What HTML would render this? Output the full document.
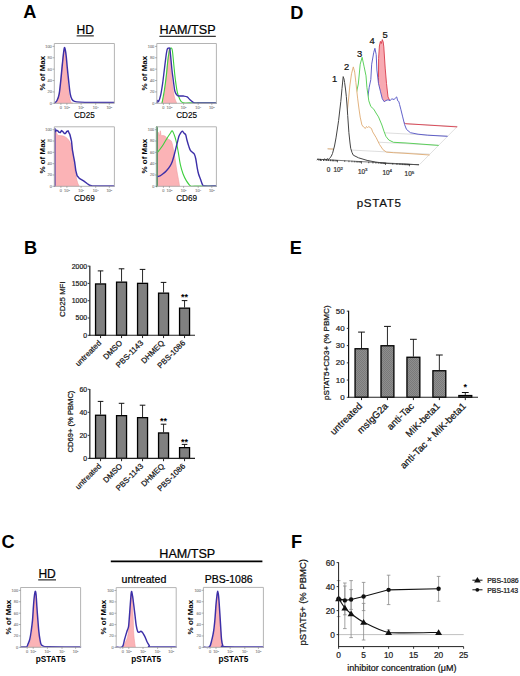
<!DOCTYPE html>
<html><head><meta charset="utf-8"><style>
html,body{margin:0;padding:0;background:#fff;}
svg{display:block;}
text{font-family:"Liberation Sans", sans-serif;}
</style></head><body>
<svg width="520" height="676" viewBox="0 0 520 676">
<rect width="520" height="676" fill="#fff"/>
<defs><pattern id="hatch" width="2" height="2" patternUnits="userSpaceOnUse"><rect width="2" height="2" fill="#8e8e8e"/><rect width="1" height="1" fill="#7a7a7a"/><rect x="1" y="1" width="1" height="1" fill="#7a7a7a"/></pattern></defs>
<text x="23.2" y="17.6" font-size="18.2" font-weight="bold" fill="#000">A</text>
<text x="85.2" y="34" font-size="12" text-anchor="middle" fill="#000" stroke="#000" stroke-width="0.22">HD</text>
<line x1="76.6" y1="35.9" x2="93.8" y2="35.9" stroke="#000" stroke-width="1"/>
<text x="187.6" y="34.2" font-size="12.6" text-anchor="middle" fill="#000" stroke="#000" stroke-width="0.22">HAM/TSP</text>
<line x1="159.4" y1="36.3" x2="215.8" y2="36.3" stroke="#000" stroke-width="1"/>
<path d="M56,103.3 C56.42,102.25 57.8,99.88 58.5,97 C59.2,94.12 59.7,90.17 60.2,86 C60.7,81.83 61.03,76.83 61.5,72 C61.97,67.17 62.53,60.75 63,57 C63.47,53.25 63.87,49.67 64.3,49.5 C64.73,49.33 65.18,52.58 65.6,56 C66.02,59.42 66.4,65.33 66.8,70 C67.2,74.67 67.58,79.67 68,84 C68.42,88.33 68.8,92.95 69.3,96 C69.8,99.05 70.38,101.08 71,102.3 C71.62,103.52 72.67,103.13 73,103.3 Z" fill="#fbb3b6" stroke="#f09aa0" stroke-width="0.6" stroke-linejoin="round"/>
<path d="M54.6,103 C55,102.58 56.23,102.03 57,100.5 C57.77,98.97 58.57,97.15 59.2,93.8 C59.83,90.45 60.32,84.88 60.8,80.4 C61.28,75.92 61.65,71.38 62.1,66.9 C62.55,62.42 63.12,56.72 63.5,53.5 C63.88,50.28 64.08,48.1 64.4,47.6 C64.72,47.1 65.08,48.93 65.4,50.5 C65.72,52.07 66,54.27 66.3,57 C66.6,59.73 66.82,63 67.2,66.9 C67.58,70.8 68.1,75.92 68.6,80.4 C69.1,84.88 69.63,90.65 70.2,93.8 C70.77,96.95 71.28,98.03 72,99.3 C72.72,100.57 73.17,100.93 74.5,101.4 C75.83,101.87 76.58,101.93 80,102.1 C83.42,102.27 89.33,102.33 95,102.4 C100.67,102.47 110.83,102.48 114,102.5" fill="none" stroke="#3c2fa8" stroke-width="1.45" stroke-linejoin="round" stroke-linecap="round"/>
<path d="M54.3,43.5 H114.4 V103.3 H54.3 Z" fill="none" stroke="#b4b4b4" stroke-width="1"/>
<line x1="52.5" y1="46.4" x2="54.3" y2="46.4" stroke="#7c7c7c" stroke-width="0.6"/>
<text x="51.8" y="47.8" font-size="3.9" text-anchor="end" fill="#7c7c7c" stroke="#7c7c7c" stroke-width="0.1">100</text>
<line x1="52.5" y1="57.78" x2="54.3" y2="57.78" stroke="#7c7c7c" stroke-width="0.6"/>
<text x="51.8" y="59.18" font-size="3.9" text-anchor="end" fill="#7c7c7c" stroke="#7c7c7c" stroke-width="0.1">80</text>
<line x1="52.5" y1="69.16" x2="54.3" y2="69.16" stroke="#7c7c7c" stroke-width="0.6"/>
<text x="51.8" y="70.56" font-size="3.9" text-anchor="end" fill="#7c7c7c" stroke="#7c7c7c" stroke-width="0.1">60</text>
<line x1="52.5" y1="80.54" x2="54.3" y2="80.54" stroke="#7c7c7c" stroke-width="0.6"/>
<text x="51.8" y="81.94" font-size="3.9" text-anchor="end" fill="#7c7c7c" stroke="#7c7c7c" stroke-width="0.1">40</text>
<line x1="52.5" y1="91.92" x2="54.3" y2="91.92" stroke="#7c7c7c" stroke-width="0.6"/>
<text x="51.8" y="93.32" font-size="3.9" text-anchor="end" fill="#7c7c7c" stroke="#7c7c7c" stroke-width="0.1">20</text>
<line x1="52.5" y1="103.3" x2="54.3" y2="103.3" stroke="#7c7c7c" stroke-width="0.6"/>
<text x="51.8" y="104.7" font-size="3.9" text-anchor="end" fill="#7c7c7c" stroke="#7c7c7c" stroke-width="0.1">0</text>
<line x1="60.9" y1="103.3" x2="60.9" y2="104.8" stroke="#7c7c7c" stroke-width="0.6"/>
<text x="60.9" y="109" font-size="3.9" text-anchor="middle" fill="#7c7c7c" stroke="#7c7c7c" stroke-width="0.1">0</text>
<line x1="66.9" y1="103.3" x2="66.9" y2="104.8" stroke="#7c7c7c" stroke-width="0.6"/>
<text x="66.9" y="109" font-size="3.9" text-anchor="middle" fill="#7c7c7c" stroke="#7c7c7c" stroke-width="0.1">10<tspan font-size="2.4" dy="-1.2">2</tspan></text>
<line x1="81.1" y1="103.3" x2="81.1" y2="104.8" stroke="#7c7c7c" stroke-width="0.6"/>
<text x="81.1" y="109" font-size="3.9" text-anchor="middle" fill="#7c7c7c" stroke="#7c7c7c" stroke-width="0.1">10<tspan font-size="2.4" dy="-1.2">3</tspan></text>
<line x1="95.7" y1="103.3" x2="95.7" y2="104.8" stroke="#7c7c7c" stroke-width="0.6"/>
<text x="95.7" y="109" font-size="3.9" text-anchor="middle" fill="#7c7c7c" stroke="#7c7c7c" stroke-width="0.1">10<tspan font-size="2.4" dy="-1.2">4</tspan></text>
<line x1="109.3" y1="103.3" x2="109.3" y2="104.8" stroke="#7c7c7c" stroke-width="0.6"/>
<text x="109.3" y="109" font-size="3.9" text-anchor="middle" fill="#7c7c7c" stroke="#7c7c7c" stroke-width="0.1">10<tspan font-size="2.4" dy="-1.2">5</tspan></text>
<text x="84.35" y="117.9" font-size="8.2" text-anchor="middle" fill="#000" stroke="#000" stroke-width="0.12">CD25</text>
<text x="44.6" y="73.1" font-size="8" font-weight="bold" text-anchor="middle" fill="#000" transform="rotate(-90 44.6 73.1)">% of Max</text>
<path d="M161.6,103.3 C162,101.92 163.28,98.9 164,95 C164.72,91.1 165.35,84.78 165.9,79.9 C166.45,75.02 166.83,70.28 167.3,65.7 C167.77,61.12 168.38,55.08 168.7,52.4 C169.02,49.72 168.95,48.97 169.2,49.6 C169.45,50.23 169.88,52.73 170.2,56.2 C170.52,59.67 170.72,65.67 171.1,70.4 C171.48,75.13 171.95,80.18 172.5,84.6 C173.05,89.02 173.68,93.78 174.4,96.9 C175.12,100.02 176.4,102.23 176.8,103.3 Z" fill="#fbb3b6" stroke="#f09aa0" stroke-width="0.6" stroke-linejoin="round"/>
<path d="M162.1,102.8 C162.5,100.55 163.78,93.92 164.5,89.3 C165.22,84.68 165.85,79.83 166.4,75.1 C166.95,70.37 167.33,64.83 167.8,60.9 C168.27,56.97 168.8,53.55 169.2,51.5 C169.6,49.45 169.8,49.15 170.2,48.6 C170.6,48.05 171.22,47.72 171.6,48.2 C171.98,48.68 172.12,48.58 172.5,51.5 C172.88,54.42 173.42,60.97 173.9,65.7 C174.38,70.43 174.83,75.48 175.4,79.9 C175.97,84.32 176.6,89.05 177.3,92.2 C178,95.35 178.73,97.07 179.6,98.8 C180.47,100.53 180.77,101.92 182.5,102.6 C184.23,103.28 184.42,102.85 190,102.9 C195.58,102.95 211.67,102.9 216,102.9" fill="none" stroke="#3ccf3c" stroke-width="1.1" stroke-linejoin="round" stroke-linecap="round"/>
<path d="M157.2,102.7 C157.27,102.33 157.37,100.7 157.6,100.5 C157.83,100.3 158.08,102.42 158.6,101.5 C159.12,100.58 160.03,97.97 160.7,95 C161.37,92.03 162.05,87.48 162.6,83.7 C163.15,79.92 163.53,76.1 164,72.3 C164.47,68.5 165,64.05 165.4,60.9 C165.8,57.75 166.08,55.37 166.4,53.4 C166.72,51.43 166.98,49.97 167.3,49.1 C167.62,48.23 167.9,48.35 168.3,48.2 C168.7,48.05 169.38,47.65 169.7,48.2 C170.02,48.75 169.97,49.38 170.2,51.5 C170.43,53.62 170.8,57.75 171.1,60.9 C171.4,64.05 171.6,66.92 172,70.4 C172.4,73.88 173.02,78.33 173.5,81.8 C173.98,85.27 174.27,88.92 174.9,91.2 C175.53,93.48 176.35,94.7 177.3,95.5 C178.25,96.3 179.58,95.92 180.6,96 C181.62,96.08 182.3,95.85 183.4,96 C184.5,96.15 186.1,96.27 187.2,96.9 C188.3,97.53 189.05,98.93 190,99.8 C190.95,100.67 192.1,101.57 192.9,102.1 C193.7,102.63 193.62,102.85 194.8,103 C195.98,103.15 196.47,103 200,103 C203.53,103 213.33,103 216,103" fill="none" stroke="#3c2fa8" stroke-width="1.35" stroke-linejoin="round" stroke-linecap="round"/>
<path d="M156.8,43.5 H216.4 V103.3 H156.8 Z" fill="none" stroke="#b4b4b4" stroke-width="1"/>
<line x1="155" y1="46.4" x2="156.8" y2="46.4" stroke="#7c7c7c" stroke-width="0.6"/>
<text x="154.3" y="47.8" font-size="3.9" text-anchor="end" fill="#7c7c7c" stroke="#7c7c7c" stroke-width="0.1">100</text>
<line x1="155" y1="57.78" x2="156.8" y2="57.78" stroke="#7c7c7c" stroke-width="0.6"/>
<text x="154.3" y="59.18" font-size="3.9" text-anchor="end" fill="#7c7c7c" stroke="#7c7c7c" stroke-width="0.1">80</text>
<line x1="155" y1="69.16" x2="156.8" y2="69.16" stroke="#7c7c7c" stroke-width="0.6"/>
<text x="154.3" y="70.56" font-size="3.9" text-anchor="end" fill="#7c7c7c" stroke="#7c7c7c" stroke-width="0.1">60</text>
<line x1="155" y1="80.54" x2="156.8" y2="80.54" stroke="#7c7c7c" stroke-width="0.6"/>
<text x="154.3" y="81.94" font-size="3.9" text-anchor="end" fill="#7c7c7c" stroke="#7c7c7c" stroke-width="0.1">40</text>
<line x1="155" y1="91.92" x2="156.8" y2="91.92" stroke="#7c7c7c" stroke-width="0.6"/>
<text x="154.3" y="93.32" font-size="3.9" text-anchor="end" fill="#7c7c7c" stroke="#7c7c7c" stroke-width="0.1">20</text>
<line x1="155" y1="103.3" x2="156.8" y2="103.3" stroke="#7c7c7c" stroke-width="0.6"/>
<text x="154.3" y="104.7" font-size="3.9" text-anchor="end" fill="#7c7c7c" stroke="#7c7c7c" stroke-width="0.1">0</text>
<line x1="163.4" y1="103.3" x2="163.4" y2="104.8" stroke="#7c7c7c" stroke-width="0.6"/>
<text x="163.4" y="109" font-size="3.9" text-anchor="middle" fill="#7c7c7c" stroke="#7c7c7c" stroke-width="0.1">0</text>
<line x1="169.4" y1="103.3" x2="169.4" y2="104.8" stroke="#7c7c7c" stroke-width="0.6"/>
<text x="169.4" y="109" font-size="3.9" text-anchor="middle" fill="#7c7c7c" stroke="#7c7c7c" stroke-width="0.1">10<tspan font-size="2.4" dy="-1.2">2</tspan></text>
<line x1="183.6" y1="103.3" x2="183.6" y2="104.8" stroke="#7c7c7c" stroke-width="0.6"/>
<text x="183.6" y="109" font-size="3.9" text-anchor="middle" fill="#7c7c7c" stroke="#7c7c7c" stroke-width="0.1">10<tspan font-size="2.4" dy="-1.2">3</tspan></text>
<line x1="198.2" y1="103.3" x2="198.2" y2="104.8" stroke="#7c7c7c" stroke-width="0.6"/>
<text x="198.2" y="109" font-size="3.9" text-anchor="middle" fill="#7c7c7c" stroke="#7c7c7c" stroke-width="0.1">10<tspan font-size="2.4" dy="-1.2">4</tspan></text>
<line x1="211.8" y1="103.3" x2="211.8" y2="104.8" stroke="#7c7c7c" stroke-width="0.6"/>
<text x="211.8" y="109" font-size="3.9" text-anchor="middle" fill="#7c7c7c" stroke="#7c7c7c" stroke-width="0.1">10<tspan font-size="2.4" dy="-1.2">5</tspan></text>
<text x="186.6" y="117.9" font-size="8.2" text-anchor="middle" fill="#000" stroke="#000" stroke-width="0.12">CD25</text>
<text x="147.2" y="73.1" font-size="8" font-weight="bold" text-anchor="middle" fill="#000" transform="rotate(-90 147.2 73.1)">% of Max</text>
<path d="M54.8,186.3 C54.8,177.68 54.27,143.08 54.8,134.6 C55.33,126.12 56.8,135.2 58,135.4 C59.2,135.6 60.92,135.6 62,135.8 C63.08,136 63.67,136.2 64.5,136.6 C65.33,137 66.2,137.47 67,138.2 C67.8,138.93 68.63,139.87 69.3,141 C69.97,142.13 70.48,143.42 71,145 C71.52,146.58 72.03,148.83 72.4,150.5 C72.77,152.17 72.98,153 73.2,155 C73.42,157 73.4,159.9 73.7,162.5 C74,165.1 74.57,168.1 75,170.6 C75.43,173.1 75.87,175.48 76.3,177.5 C76.73,179.52 77.1,181.23 77.6,182.7 C78.1,184.17 79.02,185.7 79.3,186.3 Z" fill="#fbb3b6" stroke="#f09aa0" stroke-width="0.6" stroke-linejoin="round"/>
<path d="M54.8,186.2 L54.8,128.5 L55.5,131.6 L56.5,130.2 L57.7,130.8 L59,132.3 L60.3,132.5 L61.5,130.6 L62.9,131.6 L64.2,133.4 L65.5,133.4 L66.8,131.5 L68.1,130.8 L69.3,133.5 L69.8,134.2 L70.7,137.7 L71.5,141.1 L72.4,149.8 L73.3,155 L74.6,161.9 L75.8,170.6 L77.1,175.7 L79.3,178.3 L83.6,180.9 L87.1,183.5 L89.7,185.3 L92.3,185.9 L100,186 L114,186" fill="none" stroke="#3c2fa8" stroke-width="1.45" stroke-linejoin="round" stroke-linecap="round"/>
<path d="M54.3,126.8 H114.4 V186.3 H54.3 Z" fill="none" stroke="#b4b4b4" stroke-width="1"/>
<line x1="52.5" y1="129.7" x2="54.3" y2="129.7" stroke="#7c7c7c" stroke-width="0.6"/>
<text x="51.8" y="131.1" font-size="3.9" text-anchor="end" fill="#7c7c7c" stroke="#7c7c7c" stroke-width="0.1">100</text>
<line x1="52.5" y1="141.02" x2="54.3" y2="141.02" stroke="#7c7c7c" stroke-width="0.6"/>
<text x="51.8" y="142.42" font-size="3.9" text-anchor="end" fill="#7c7c7c" stroke="#7c7c7c" stroke-width="0.1">80</text>
<line x1="52.5" y1="152.34" x2="54.3" y2="152.34" stroke="#7c7c7c" stroke-width="0.6"/>
<text x="51.8" y="153.74" font-size="3.9" text-anchor="end" fill="#7c7c7c" stroke="#7c7c7c" stroke-width="0.1">60</text>
<line x1="52.5" y1="163.66" x2="54.3" y2="163.66" stroke="#7c7c7c" stroke-width="0.6"/>
<text x="51.8" y="165.06" font-size="3.9" text-anchor="end" fill="#7c7c7c" stroke="#7c7c7c" stroke-width="0.1">40</text>
<line x1="52.5" y1="174.98" x2="54.3" y2="174.98" stroke="#7c7c7c" stroke-width="0.6"/>
<text x="51.8" y="176.38" font-size="3.9" text-anchor="end" fill="#7c7c7c" stroke="#7c7c7c" stroke-width="0.1">20</text>
<line x1="52.5" y1="186.3" x2="54.3" y2="186.3" stroke="#7c7c7c" stroke-width="0.6"/>
<text x="51.8" y="187.7" font-size="3.9" text-anchor="end" fill="#7c7c7c" stroke="#7c7c7c" stroke-width="0.1">0</text>
<line x1="60.9" y1="186.3" x2="60.9" y2="187.8" stroke="#7c7c7c" stroke-width="0.6"/>
<text x="60.9" y="192" font-size="3.9" text-anchor="middle" fill="#7c7c7c" stroke="#7c7c7c" stroke-width="0.1">0</text>
<line x1="66.9" y1="186.3" x2="66.9" y2="187.8" stroke="#7c7c7c" stroke-width="0.6"/>
<text x="66.9" y="192" font-size="3.9" text-anchor="middle" fill="#7c7c7c" stroke="#7c7c7c" stroke-width="0.1">10<tspan font-size="2.4" dy="-1.2">2</tspan></text>
<line x1="81.1" y1="186.3" x2="81.1" y2="187.8" stroke="#7c7c7c" stroke-width="0.6"/>
<text x="81.1" y="192" font-size="3.9" text-anchor="middle" fill="#7c7c7c" stroke="#7c7c7c" stroke-width="0.1">10<tspan font-size="2.4" dy="-1.2">3</tspan></text>
<line x1="95.7" y1="186.3" x2="95.7" y2="187.8" stroke="#7c7c7c" stroke-width="0.6"/>
<text x="95.7" y="192" font-size="3.9" text-anchor="middle" fill="#7c7c7c" stroke="#7c7c7c" stroke-width="0.1">10<tspan font-size="2.4" dy="-1.2">4</tspan></text>
<line x1="109.3" y1="186.3" x2="109.3" y2="187.8" stroke="#7c7c7c" stroke-width="0.6"/>
<text x="109.3" y="192" font-size="3.9" text-anchor="middle" fill="#7c7c7c" stroke="#7c7c7c" stroke-width="0.1">10<tspan font-size="2.4" dy="-1.2">5</tspan></text>
<text x="84.35" y="200.9" font-size="8.2" text-anchor="middle" fill="#000" stroke="#000" stroke-width="0.12">CD69</text>
<text x="44.6" y="156.25" font-size="8" font-weight="bold" text-anchor="middle" fill="#000" transform="rotate(-90 44.6 156.25)">% of Max</text>
<path d="M157.6,186.3 C157.6,177.92 157.3,144.45 157.6,136 C157.9,127.55 159.02,136.1 159.4,135.6 C159.78,135.1 159.75,133.8 159.9,133 C160.05,132.2 160.17,130.8 160.3,130.8 C160.43,130.8 160.55,132.2 160.7,133 C160.85,133.8 160.82,135.17 161.2,135.6 C161.58,136.03 162.28,135.47 163,135.6 C163.72,135.73 164.75,135.87 165.5,136.4 C166.25,136.93 166.72,138.17 167.5,138.8 C168.28,139.43 169.53,139.75 170.2,140.2 C170.87,140.65 171.05,140.38 171.5,141.5 C171.95,142.62 172.33,144.2 172.9,146.9 C173.47,149.6 174.23,153.67 174.9,157.7 C175.57,161.73 176.23,167.07 176.9,171.1 C177.57,175.13 178.45,179.37 178.9,181.9 C179.35,184.43 179.48,185.57 179.6,186.3 Z" fill="#fbb3b6" stroke="#f09aa0" stroke-width="0.6" stroke-linejoin="round"/>
<path d="M156.9,186.2 L156.9,127.2" fill="none" stroke="#2e8040" stroke-width="2" stroke-linejoin="round" stroke-linecap="round"/>
<path d="M157.8,152 C158.17,151.55 159.05,150.6 160,149.3 C160.95,148 162.25,146.17 163.5,144.2 C164.75,142.23 166.33,139.37 167.5,137.5 C168.67,135.63 169.72,134.12 170.5,133 C171.28,131.88 171.58,130.5 172.2,130.8 C172.82,131.1 173.53,133.02 174.2,134.8 C174.87,136.58 175.52,138.58 176.2,141.5 C176.88,144.42 177.62,148.48 178.3,152.3 C178.98,156.12 179.52,160.82 180.3,164.4 C181.08,167.98 182,171.1 183,173.8 C184,176.5 185.07,178.6 186.3,180.6 C187.53,182.6 188.95,184.88 190.4,185.8 C191.85,186.72 190.73,186.05 195,186.1 C199.27,186.15 212.5,186.1 216,186.1" fill="none" stroke="#3ccf3c" stroke-width="1.1" stroke-linejoin="round" stroke-linecap="round"/>
<path d="M157.8,176.5 C158.17,176.38 159.28,176.13 160,175.8 C160.72,175.47 161.07,175.28 162.1,174.5 C163.13,173.72 164.85,172.55 166.2,171.1 C167.55,169.65 169.2,167.37 170.2,165.8 C171.2,164.23 171.53,163.5 172.2,161.7 C172.87,159.9 173.53,157.47 174.2,155 C174.87,152.53 175.63,149.15 176.2,146.9 C176.77,144.65 177.15,143.28 177.6,141.5 C178.05,139.72 178.45,137.53 178.9,136.2 C179.35,134.87 179.73,134.33 180.3,133.5 C180.87,132.67 181.77,131.37 182.3,131.2 C182.83,131.03 183.17,132.12 183.5,132.5 C183.83,132.88 183.93,133.12 184.3,133.5 C184.67,133.88 185.25,133.68 185.7,134.8 C186.15,135.92 186.45,138.18 187,140.2 C187.55,142.22 188.43,145.22 189,146.9 C189.57,148.58 189.83,149.4 190.4,150.3 C190.97,151.2 191.73,151.63 192.4,152.3 C193.07,152.97 193.83,153.18 194.4,154.3 C194.97,155.42 195.35,156.87 195.8,159 C196.25,161.13 196.65,164.63 197.1,167.1 C197.55,169.57 197.93,171.78 198.5,173.8 C199.07,175.82 199.83,177.4 200.5,179.2 C201.17,181 201.83,183.47 202.5,184.6 C203.17,185.73 202.25,185.77 204.5,186 C206.75,186.23 214.08,186 216,186" fill="none" stroke="#3c2fa8" stroke-width="1.4" stroke-linejoin="round" stroke-linecap="round"/>
<path d="M156.8,126.8 H216.4 V186.3 H156.8 Z" fill="none" stroke="#b4b4b4" stroke-width="1"/>
<line x1="155" y1="129.7" x2="156.8" y2="129.7" stroke="#7c7c7c" stroke-width="0.6"/>
<text x="154.3" y="131.1" font-size="3.9" text-anchor="end" fill="#7c7c7c" stroke="#7c7c7c" stroke-width="0.1">100</text>
<line x1="155" y1="141.02" x2="156.8" y2="141.02" stroke="#7c7c7c" stroke-width="0.6"/>
<text x="154.3" y="142.42" font-size="3.9" text-anchor="end" fill="#7c7c7c" stroke="#7c7c7c" stroke-width="0.1">80</text>
<line x1="155" y1="152.34" x2="156.8" y2="152.34" stroke="#7c7c7c" stroke-width="0.6"/>
<text x="154.3" y="153.74" font-size="3.9" text-anchor="end" fill="#7c7c7c" stroke="#7c7c7c" stroke-width="0.1">60</text>
<line x1="155" y1="163.66" x2="156.8" y2="163.66" stroke="#7c7c7c" stroke-width="0.6"/>
<text x="154.3" y="165.06" font-size="3.9" text-anchor="end" fill="#7c7c7c" stroke="#7c7c7c" stroke-width="0.1">40</text>
<line x1="155" y1="174.98" x2="156.8" y2="174.98" stroke="#7c7c7c" stroke-width="0.6"/>
<text x="154.3" y="176.38" font-size="3.9" text-anchor="end" fill="#7c7c7c" stroke="#7c7c7c" stroke-width="0.1">20</text>
<line x1="155" y1="186.3" x2="156.8" y2="186.3" stroke="#7c7c7c" stroke-width="0.6"/>
<text x="154.3" y="187.7" font-size="3.9" text-anchor="end" fill="#7c7c7c" stroke="#7c7c7c" stroke-width="0.1">0</text>
<line x1="163.4" y1="186.3" x2="163.4" y2="187.8" stroke="#7c7c7c" stroke-width="0.6"/>
<text x="163.4" y="192" font-size="3.9" text-anchor="middle" fill="#7c7c7c" stroke="#7c7c7c" stroke-width="0.1">0</text>
<line x1="169.4" y1="186.3" x2="169.4" y2="187.8" stroke="#7c7c7c" stroke-width="0.6"/>
<text x="169.4" y="192" font-size="3.9" text-anchor="middle" fill="#7c7c7c" stroke="#7c7c7c" stroke-width="0.1">10<tspan font-size="2.4" dy="-1.2">2</tspan></text>
<line x1="183.6" y1="186.3" x2="183.6" y2="187.8" stroke="#7c7c7c" stroke-width="0.6"/>
<text x="183.6" y="192" font-size="3.9" text-anchor="middle" fill="#7c7c7c" stroke="#7c7c7c" stroke-width="0.1">10<tspan font-size="2.4" dy="-1.2">3</tspan></text>
<line x1="198.2" y1="186.3" x2="198.2" y2="187.8" stroke="#7c7c7c" stroke-width="0.6"/>
<text x="198.2" y="192" font-size="3.9" text-anchor="middle" fill="#7c7c7c" stroke="#7c7c7c" stroke-width="0.1">10<tspan font-size="2.4" dy="-1.2">4</tspan></text>
<line x1="211.8" y1="186.3" x2="211.8" y2="187.8" stroke="#7c7c7c" stroke-width="0.6"/>
<text x="211.8" y="192" font-size="3.9" text-anchor="middle" fill="#7c7c7c" stroke="#7c7c7c" stroke-width="0.1">10<tspan font-size="2.4" dy="-1.2">5</tspan></text>
<text x="186.6" y="200.9" font-size="8.2" text-anchor="middle" fill="#000" stroke="#000" stroke-width="0.12">CD69</text>
<text x="147.2" y="156.25" font-size="8" font-weight="bold" text-anchor="middle" fill="#000" transform="rotate(-90 147.2 156.25)">% of Max</text>
<text x="24" y="254" font-size="18.2" font-weight="bold" fill="#000">B</text>
<line x1="100.55" y1="283.3" x2="100.55" y2="270.9" stroke="#111" stroke-width="0.9"/>
<line x1="97.75" y1="270.9" x2="103.35" y2="270.9" stroke="#111" stroke-width="1"/>
<rect x="95.55" y="283.95" width="10" height="51.35" fill="#808080" stroke="#000" stroke-width="1.3"/>
<line x1="121.55" y1="281.5" x2="121.55" y2="268.8" stroke="#111" stroke-width="0.9"/>
<line x1="118.75" y1="268.8" x2="124.35" y2="268.8" stroke="#111" stroke-width="1"/>
<rect x="116.55" y="282.15" width="10" height="53.15" fill="#808080" stroke="#000" stroke-width="1.3"/>
<line x1="142.55" y1="282.7" x2="142.55" y2="269.4" stroke="#111" stroke-width="0.9"/>
<line x1="139.75" y1="269.4" x2="145.35" y2="269.4" stroke="#111" stroke-width="1"/>
<rect x="137.55" y="283.35" width="10" height="51.95" fill="#808080" stroke="#000" stroke-width="1.3"/>
<line x1="163.55" y1="292.5" x2="163.55" y2="282.4" stroke="#111" stroke-width="0.9"/>
<line x1="160.75" y1="282.4" x2="166.35" y2="282.4" stroke="#111" stroke-width="1"/>
<rect x="158.55" y="293.15" width="10" height="42.15" fill="#808080" stroke="#000" stroke-width="1.3"/>
<line x1="184.55" y1="307.5" x2="184.55" y2="300.6" stroke="#111" stroke-width="0.9"/>
<line x1="181.75" y1="300.6" x2="187.35" y2="300.6" stroke="#111" stroke-width="1"/>
<rect x="179.55" y="308.15" width="10" height="27.15" fill="#808080" stroke="#000" stroke-width="1.3"/>
<line x1="89.8" y1="265.8" x2="89.8" y2="335.8" stroke="#4a4a4a" stroke-width="1.5"/>
<line x1="89" y1="335.3" x2="195" y2="335.3" stroke="#222" stroke-width="1.1"/>
<line x1="87.7" y1="335.3" x2="89.5" y2="335.3" stroke="#222" stroke-width="0.9"/>
<text x="87.1" y="337.78" font-size="6.9" text-anchor="end" fill="#222" stroke="#222" stroke-width="0.22">0</text>
<line x1="87.7" y1="318" x2="89.5" y2="318" stroke="#222" stroke-width="0.9"/>
<text x="87.1" y="320.48" font-size="6.9" text-anchor="end" fill="#222" stroke="#222" stroke-width="0.22">500</text>
<line x1="87.7" y1="300.7" x2="89.5" y2="300.7" stroke="#222" stroke-width="0.9"/>
<text x="87.1" y="303.18" font-size="6.9" text-anchor="end" fill="#222" stroke="#222" stroke-width="0.22">1000</text>
<line x1="87.7" y1="283.4" x2="89.5" y2="283.4" stroke="#222" stroke-width="0.9"/>
<text x="87.1" y="285.88" font-size="6.9" text-anchor="end" fill="#222" stroke="#222" stroke-width="0.22">1500</text>
<line x1="87.7" y1="266.1" x2="89.5" y2="266.1" stroke="#222" stroke-width="0.9"/>
<text x="87.1" y="268.58" font-size="6.9" text-anchor="end" fill="#222" stroke="#222" stroke-width="0.22">2000</text>
<line x1="100.55" y1="335.3" x2="100.55" y2="338.1" stroke="#222" stroke-width="1"/>
<line x1="121.55" y1="335.3" x2="121.55" y2="338.1" stroke="#222" stroke-width="1"/>
<line x1="142.55" y1="335.3" x2="142.55" y2="338.1" stroke="#222" stroke-width="1"/>
<line x1="163.55" y1="335.3" x2="163.55" y2="338.1" stroke="#222" stroke-width="1"/>
<line x1="184.55" y1="335.3" x2="184.55" y2="338.1" stroke="#222" stroke-width="1"/>
<text x="64.9" y="299.2" font-size="7.8" text-anchor="middle" fill="#111" transform="rotate(-90 64.9 299.2)" stroke="#111" stroke-width="0.22">CD25 MFI</text>
<text x="184.55" y="300.1" font-size="9" font-weight="bold" text-anchor="middle" fill="#000">**</text>
<text x="101.75" y="343.5" font-size="7.8" text-anchor="end" fill="#111" transform="rotate(-45 101.75 343.5)" stroke="#111" stroke-width="0.22">untreated</text>
<text x="122.75" y="343.5" font-size="7.8" text-anchor="end" fill="#111" transform="rotate(-45 122.75 343.5)" stroke="#111" stroke-width="0.22">DMSO</text>
<text x="143.75" y="343.5" font-size="7.8" text-anchor="end" fill="#111" transform="rotate(-45 143.75 343.5)" stroke="#111" stroke-width="0.22">PBS-1143</text>
<text x="164.75" y="343.5" font-size="7.8" text-anchor="end" fill="#111" transform="rotate(-45 164.75 343.5)" stroke="#111" stroke-width="0.22">DHMEQ</text>
<text x="185.75" y="343.5" font-size="7.8" text-anchor="end" fill="#111" transform="rotate(-45 185.75 343.5)" stroke="#111" stroke-width="0.22">PBS-1086</text>
<line x1="100.55" y1="414.6" x2="100.55" y2="401.4" stroke="#111" stroke-width="0.9"/>
<line x1="97.75" y1="401.4" x2="103.35" y2="401.4" stroke="#111" stroke-width="1"/>
<rect x="95.55" y="415.25" width="10" height="43.15" fill="#808080" stroke="#000" stroke-width="1.3"/>
<line x1="121.55" y1="415" x2="121.55" y2="403.3" stroke="#111" stroke-width="0.9"/>
<line x1="118.75" y1="403.3" x2="124.35" y2="403.3" stroke="#111" stroke-width="1"/>
<rect x="116.55" y="415.65" width="10" height="42.75" fill="#808080" stroke="#000" stroke-width="1.3"/>
<line x1="142.55" y1="417" x2="142.55" y2="405.2" stroke="#111" stroke-width="0.9"/>
<line x1="139.75" y1="405.2" x2="145.35" y2="405.2" stroke="#111" stroke-width="1"/>
<rect x="137.55" y="417.65" width="10" height="40.75" fill="#808080" stroke="#000" stroke-width="1.3"/>
<line x1="163.55" y1="432.3" x2="163.55" y2="424.2" stroke="#111" stroke-width="0.9"/>
<line x1="160.75" y1="424.2" x2="166.35" y2="424.2" stroke="#111" stroke-width="1"/>
<rect x="158.55" y="432.95" width="10" height="25.45" fill="#808080" stroke="#000" stroke-width="1.3"/>
<line x1="184.55" y1="447" x2="184.55" y2="444.4" stroke="#111" stroke-width="0.9"/>
<line x1="181.75" y1="444.4" x2="187.35" y2="444.4" stroke="#111" stroke-width="1"/>
<rect x="179.55" y="447.65" width="10" height="10.75" fill="#808080" stroke="#000" stroke-width="1.3"/>
<line x1="89.8" y1="388.95" x2="89.8" y2="458.9" stroke="#4a4a4a" stroke-width="1.5"/>
<line x1="89" y1="458.4" x2="195" y2="458.4" stroke="#222" stroke-width="1.1"/>
<line x1="87.7" y1="458.4" x2="89.5" y2="458.4" stroke="#222" stroke-width="0.9"/>
<text x="87.1" y="460.88" font-size="6.9" text-anchor="end" fill="#222" stroke="#222" stroke-width="0.22">0</text>
<line x1="87.7" y1="435.35" x2="89.5" y2="435.35" stroke="#222" stroke-width="0.9"/>
<text x="87.1" y="437.83" font-size="6.9" text-anchor="end" fill="#222" stroke="#222" stroke-width="0.22">20</text>
<line x1="87.7" y1="412.3" x2="89.5" y2="412.3" stroke="#222" stroke-width="0.9"/>
<text x="87.1" y="414.78" font-size="6.9" text-anchor="end" fill="#222" stroke="#222" stroke-width="0.22">40</text>
<line x1="87.7" y1="389.25" x2="89.5" y2="389.25" stroke="#222" stroke-width="0.9"/>
<text x="87.1" y="391.73" font-size="6.9" text-anchor="end" fill="#222" stroke="#222" stroke-width="0.22">60</text>
<line x1="100.55" y1="458.4" x2="100.55" y2="461.2" stroke="#222" stroke-width="1"/>
<line x1="121.55" y1="458.4" x2="121.55" y2="461.2" stroke="#222" stroke-width="1"/>
<line x1="142.55" y1="458.4" x2="142.55" y2="461.2" stroke="#222" stroke-width="1"/>
<line x1="163.55" y1="458.4" x2="163.55" y2="461.2" stroke="#222" stroke-width="1"/>
<line x1="184.55" y1="458.4" x2="184.55" y2="461.2" stroke="#222" stroke-width="1"/>
<text x="72.9" y="421.5" font-size="7.6" text-anchor="middle" fill="#111" transform="rotate(-90 72.9 421.5)" stroke="#111" stroke-width="0.22">CD69+ (% PBMC)</text>
<text x="163.55" y="424.4" font-size="9" font-weight="bold" text-anchor="middle" fill="#000">**</text>
<text x="184.55" y="444.5" font-size="9" font-weight="bold" text-anchor="middle" fill="#000">**</text>
<text x="101.75" y="466.6" font-size="7.8" text-anchor="end" fill="#111" transform="rotate(-45 101.75 466.6)" stroke="#111" stroke-width="0.22">untreated</text>
<text x="122.75" y="466.6" font-size="7.8" text-anchor="end" fill="#111" transform="rotate(-45 122.75 466.6)" stroke="#111" stroke-width="0.22">DMSO</text>
<text x="143.75" y="466.6" font-size="7.8" text-anchor="end" fill="#111" transform="rotate(-45 143.75 466.6)" stroke="#111" stroke-width="0.22">PBS-1143</text>
<text x="164.75" y="466.6" font-size="7.8" text-anchor="end" fill="#111" transform="rotate(-45 164.75 466.6)" stroke="#111" stroke-width="0.22">DHMEQ</text>
<text x="185.75" y="466.6" font-size="7.8" text-anchor="end" fill="#111" transform="rotate(-45 185.75 466.6)" stroke="#111" stroke-width="0.22">PBS-1086</text>
<text x="1.4" y="548.4" font-size="18.2" font-weight="bold" fill="#000">C</text>
<text x="47.1" y="577.7" font-size="12" text-anchor="middle" fill="#000" stroke="#000" stroke-width="0.22">HD</text>
<line x1="38.2" y1="579.9" x2="56" y2="579.9" stroke="#000" stroke-width="1"/>
<text x="187.3" y="558.4" font-size="12.6" text-anchor="middle" fill="#000" stroke="#000" stroke-width="0.22">HAM/TSP</text>
<line x1="110.8" y1="561.4" x2="262.4" y2="561.4" stroke="#000" stroke-width="1.6"/>
<text x="143.9" y="582.6" font-size="10.6" text-anchor="middle" fill="#000" stroke="#000" stroke-width="0.22">untreated</text>
<text x="228.7" y="582.5" font-size="10.5" text-anchor="middle" fill="#000" stroke="#000" stroke-width="0.22">PBS-1086</text>
<path d="M27.8,647.2 C28.25,646.1 29.72,643.95 30.5,640.6 C31.28,637.25 31.95,632.72 32.5,627.1 C33.05,621.48 33.35,612.5 33.8,606.9 C34.25,601.3 34.75,593.5 35.2,593.5 C35.65,593.5 36.02,601.3 36.5,606.9 C36.98,612.5 37.53,621.03 38.1,627.1 C38.67,633.17 39.38,639.95 39.9,643.3 C40.42,646.65 40.98,646.55 41.2,647.2 Z" fill="#fbb3b6" stroke="#f09aa0" stroke-width="0.6" stroke-linejoin="round"/>
<path d="M20.9,646.9 C21.82,646.9 25.25,647.28 26.4,646.9 C27.55,646.52 27.23,645.88 27.8,644.6 C28.37,643.32 29.23,641.45 29.8,639.2 C30.37,636.95 30.75,634.23 31.2,631.1 C31.65,627.97 32.13,624.43 32.5,620.4 C32.87,616.37 33.12,610.72 33.4,606.9 C33.68,603.08 33.9,600.08 34.2,597.5 C34.5,594.92 34.88,591.85 35.2,591.4 C35.52,590.95 35.82,592.22 36.1,594.8 C36.38,597.38 36.6,602.63 36.9,606.9 C37.2,611.17 37.58,616.37 37.9,620.4 C38.22,624.43 38.47,627.97 38.8,631.1 C39.13,634.23 39.5,636.95 39.9,639.2 C40.3,641.45 40.53,643.4 41.2,644.6 C41.87,645.8 42.67,646.03 43.9,646.4 C45.13,646.77 42.5,646.72 48.6,646.8 C54.7,646.88 75.18,646.88 80.5,646.9" fill="none" stroke="#3c2fa8" stroke-width="1.45" stroke-linejoin="round" stroke-linecap="round"/>
<path d="M20.6,587.5 H80.6 V647.3 H20.6 Z" fill="none" stroke="#b4b4b4" stroke-width="1"/>
<line x1="18.8" y1="590.4" x2="20.6" y2="590.4" stroke="#7c7c7c" stroke-width="0.6"/>
<text x="18.1" y="591.8" font-size="3.9" text-anchor="end" fill="#7c7c7c" stroke="#7c7c7c" stroke-width="0.1">100</text>
<line x1="18.8" y1="601.78" x2="20.6" y2="601.78" stroke="#7c7c7c" stroke-width="0.6"/>
<text x="18.1" y="603.18" font-size="3.9" text-anchor="end" fill="#7c7c7c" stroke="#7c7c7c" stroke-width="0.1">80</text>
<line x1="18.8" y1="613.16" x2="20.6" y2="613.16" stroke="#7c7c7c" stroke-width="0.6"/>
<text x="18.1" y="614.56" font-size="3.9" text-anchor="end" fill="#7c7c7c" stroke="#7c7c7c" stroke-width="0.1">60</text>
<line x1="18.8" y1="624.54" x2="20.6" y2="624.54" stroke="#7c7c7c" stroke-width="0.6"/>
<text x="18.1" y="625.94" font-size="3.9" text-anchor="end" fill="#7c7c7c" stroke="#7c7c7c" stroke-width="0.1">40</text>
<line x1="18.8" y1="635.92" x2="20.6" y2="635.92" stroke="#7c7c7c" stroke-width="0.6"/>
<text x="18.1" y="637.32" font-size="3.9" text-anchor="end" fill="#7c7c7c" stroke="#7c7c7c" stroke-width="0.1">20</text>
<line x1="18.8" y1="647.3" x2="20.6" y2="647.3" stroke="#7c7c7c" stroke-width="0.6"/>
<text x="18.1" y="648.7" font-size="3.9" text-anchor="end" fill="#7c7c7c" stroke="#7c7c7c" stroke-width="0.1">0</text>
<line x1="27.2" y1="647.3" x2="27.2" y2="648.8" stroke="#7c7c7c" stroke-width="0.6"/>
<text x="27.2" y="653" font-size="3.9" text-anchor="middle" fill="#7c7c7c" stroke="#7c7c7c" stroke-width="0.1">0</text>
<line x1="33.2" y1="647.3" x2="33.2" y2="648.8" stroke="#7c7c7c" stroke-width="0.6"/>
<text x="33.2" y="653" font-size="3.9" text-anchor="middle" fill="#7c7c7c" stroke="#7c7c7c" stroke-width="0.1">10<tspan font-size="2.4" dy="-1.2">2</tspan></text>
<line x1="47.4" y1="647.3" x2="47.4" y2="648.8" stroke="#7c7c7c" stroke-width="0.6"/>
<text x="47.4" y="653" font-size="3.9" text-anchor="middle" fill="#7c7c7c" stroke="#7c7c7c" stroke-width="0.1">10<tspan font-size="2.4" dy="-1.2">3</tspan></text>
<line x1="62" y1="647.3" x2="62" y2="648.8" stroke="#7c7c7c" stroke-width="0.6"/>
<text x="62" y="653" font-size="3.9" text-anchor="middle" fill="#7c7c7c" stroke="#7c7c7c" stroke-width="0.1">10<tspan font-size="2.4" dy="-1.2">4</tspan></text>
<line x1="75.6" y1="647.3" x2="75.6" y2="648.8" stroke="#7c7c7c" stroke-width="0.6"/>
<text x="75.6" y="653" font-size="3.9" text-anchor="middle" fill="#7c7c7c" stroke="#7c7c7c" stroke-width="0.1">10<tspan font-size="2.4" dy="-1.2">5</tspan></text>
<text x="50.6" y="661.9" font-size="8.2" font-weight="bold" text-anchor="middle" fill="#000">pSTAT5</text>
<text x="11.3" y="617.1" font-size="8" font-weight="bold" text-anchor="middle" fill="#000" transform="rotate(-90 11.3 617.1)">% of Max</text>
<path d="M123.1,647.2 C123.48,646.38 124.63,644.13 125.4,642.3 C126.17,640.47 127.07,639.28 127.7,636.2 C128.33,633.12 128.68,629.7 129.2,623.8 C129.72,617.9 130.42,605.92 130.8,600.8 C131.18,595.68 131.25,593.1 131.5,593.1 C131.75,593.1 132.03,596.95 132.3,600.8 C132.57,604.65 132.85,610.57 133.1,616.2 C133.35,621.83 133.47,629.73 133.8,634.6 C134.13,639.47 134.78,643.3 135.1,645.4 C135.42,647.5 135.6,646.9 135.7,647.2 Z" fill="#fbb3b6" stroke="#f09aa0" stroke-width="0.6" stroke-linejoin="round"/>
<path d="M116.4,646.9 C117.38,646.9 120.93,648.18 122.3,646.9 C123.67,645.62 123.83,641.77 124.6,639.2 C125.37,636.63 126.25,633.55 126.9,631.5 C127.55,629.45 128.12,628.95 128.5,626.9 C128.88,624.85 128.95,622.27 129.2,619.2 C129.45,616.13 129.73,612.08 130,608.5 C130.27,604.92 130.55,600.53 130.8,597.7 C131.05,594.87 131.2,591.75 131.5,591.5 C131.8,591.25 132.22,593.88 132.6,596.2 C132.98,598.52 133.38,602.07 133.8,605.4 C134.22,608.73 134.7,612.87 135.1,616.2 C135.5,619.53 135.77,622.85 136.2,625.4 C136.63,627.95 137.2,630.35 137.7,631.5 C138.2,632.65 138.68,632.35 139.2,632.3 C139.72,632.25 140.28,631.2 140.8,631.2 C141.32,631.2 141.8,631.73 142.3,632.3 C142.8,632.87 143.28,633.7 143.8,634.6 C144.32,635.5 144.88,636.55 145.4,637.7 C145.92,638.85 146.27,640.22 146.9,641.5 C147.53,642.78 148.55,644.5 149.2,645.4 C149.85,646.3 146.33,646.65 150.8,646.9 C155.27,647.15 171.8,646.9 176,646.9" fill="none" stroke="#3c2fa8" stroke-width="1.45" stroke-linejoin="round" stroke-linecap="round"/>
<path d="M116.2,587.6 H176.2 V647.4 H116.2 Z" fill="none" stroke="#b4b4b4" stroke-width="1"/>
<line x1="114.4" y1="590.5" x2="116.2" y2="590.5" stroke="#7c7c7c" stroke-width="0.6"/>
<text x="113.7" y="591.9" font-size="3.9" text-anchor="end" fill="#7c7c7c" stroke="#7c7c7c" stroke-width="0.1">100</text>
<line x1="114.4" y1="601.88" x2="116.2" y2="601.88" stroke="#7c7c7c" stroke-width="0.6"/>
<text x="113.7" y="603.28" font-size="3.9" text-anchor="end" fill="#7c7c7c" stroke="#7c7c7c" stroke-width="0.1">80</text>
<line x1="114.4" y1="613.26" x2="116.2" y2="613.26" stroke="#7c7c7c" stroke-width="0.6"/>
<text x="113.7" y="614.66" font-size="3.9" text-anchor="end" fill="#7c7c7c" stroke="#7c7c7c" stroke-width="0.1">60</text>
<line x1="114.4" y1="624.64" x2="116.2" y2="624.64" stroke="#7c7c7c" stroke-width="0.6"/>
<text x="113.7" y="626.04" font-size="3.9" text-anchor="end" fill="#7c7c7c" stroke="#7c7c7c" stroke-width="0.1">40</text>
<line x1="114.4" y1="636.02" x2="116.2" y2="636.02" stroke="#7c7c7c" stroke-width="0.6"/>
<text x="113.7" y="637.42" font-size="3.9" text-anchor="end" fill="#7c7c7c" stroke="#7c7c7c" stroke-width="0.1">20</text>
<line x1="114.4" y1="647.4" x2="116.2" y2="647.4" stroke="#7c7c7c" stroke-width="0.6"/>
<text x="113.7" y="648.8" font-size="3.9" text-anchor="end" fill="#7c7c7c" stroke="#7c7c7c" stroke-width="0.1">0</text>
<line x1="122.8" y1="647.4" x2="122.8" y2="648.9" stroke="#7c7c7c" stroke-width="0.6"/>
<text x="122.8" y="653.1" font-size="3.9" text-anchor="middle" fill="#7c7c7c" stroke="#7c7c7c" stroke-width="0.1">0</text>
<line x1="128.8" y1="647.4" x2="128.8" y2="648.9" stroke="#7c7c7c" stroke-width="0.6"/>
<text x="128.8" y="653.1" font-size="3.9" text-anchor="middle" fill="#7c7c7c" stroke="#7c7c7c" stroke-width="0.1">10<tspan font-size="2.4" dy="-1.2">2</tspan></text>
<line x1="143" y1="647.4" x2="143" y2="648.9" stroke="#7c7c7c" stroke-width="0.6"/>
<text x="143" y="653.1" font-size="3.9" text-anchor="middle" fill="#7c7c7c" stroke="#7c7c7c" stroke-width="0.1">10<tspan font-size="2.4" dy="-1.2">3</tspan></text>
<line x1="157.6" y1="647.4" x2="157.6" y2="648.9" stroke="#7c7c7c" stroke-width="0.6"/>
<text x="157.6" y="653.1" font-size="3.9" text-anchor="middle" fill="#7c7c7c" stroke="#7c7c7c" stroke-width="0.1">10<tspan font-size="2.4" dy="-1.2">4</tspan></text>
<line x1="171.2" y1="647.4" x2="171.2" y2="648.9" stroke="#7c7c7c" stroke-width="0.6"/>
<text x="171.2" y="653.1" font-size="3.9" text-anchor="middle" fill="#7c7c7c" stroke="#7c7c7c" stroke-width="0.1">10<tspan font-size="2.4" dy="-1.2">5</tspan></text>
<text x="146.2" y="662" font-size="8.2" font-weight="bold" text-anchor="middle" fill="#000">pSTAT5</text>
<text x="106.5" y="617.2" font-size="8" font-weight="bold" text-anchor="middle" fill="#000" transform="rotate(-90 106.5 617.2)">% of Max</text>
<path d="M210.5,647.2 C210.83,646.33 211.88,644.53 212.5,642 C213.12,639.47 213.68,636.5 214.2,632 C214.72,627.5 215.17,620.33 215.6,615 C216.03,609.67 216.45,603.5 216.8,600 C217.15,596.5 217.4,594 217.7,594 C218,594 218.27,596.5 218.6,600 C218.93,603.5 219.33,609.67 219.7,615 C220.07,620.33 220.45,627.33 220.8,632 C221.15,636.67 221.43,640.47 221.8,643 C222.17,645.53 222.8,646.5 223,647.2 Z" fill="#fbb3b6" stroke="#f09aa0" stroke-width="0.6" stroke-linejoin="round"/>
<path d="M203.6,646.9 C204.57,646.9 208,648.18 209.4,646.9 C210.8,645.62 211.28,641.92 212,639.2 C212.72,636.48 213.2,634.05 213.7,630.6 C214.2,627.15 214.62,622.83 215,618.5 C215.38,614.17 215.68,608.35 216,604.6 C216.32,600.85 216.62,598.25 216.9,596 C217.18,593.75 217.42,591.1 217.7,591.1 C217.98,591.1 218.3,593.17 218.6,596 C218.9,598.83 219.15,602.92 219.5,608.1 C219.85,613.28 220.37,621.92 220.7,627.1 C221.03,632.28 221.17,636.17 221.5,639.2 C221.83,642.23 222.12,644.05 222.7,645.3 C223.28,646.55 218.25,646.43 225,646.7 C231.75,646.97 256.83,646.87 263.2,646.9" fill="none" stroke="#3c2fa8" stroke-width="1.45" stroke-linejoin="round" stroke-linecap="round"/>
<path d="M203.4,587.4 H263.4 V647.4 H203.4 Z" fill="none" stroke="#b4b4b4" stroke-width="1"/>
<line x1="201.6" y1="590.3" x2="203.4" y2="590.3" stroke="#7c7c7c" stroke-width="0.6"/>
<text x="200.9" y="591.7" font-size="3.9" text-anchor="end" fill="#7c7c7c" stroke="#7c7c7c" stroke-width="0.1">100</text>
<line x1="201.6" y1="601.72" x2="203.4" y2="601.72" stroke="#7c7c7c" stroke-width="0.6"/>
<text x="200.9" y="603.12" font-size="3.9" text-anchor="end" fill="#7c7c7c" stroke="#7c7c7c" stroke-width="0.1">80</text>
<line x1="201.6" y1="613.14" x2="203.4" y2="613.14" stroke="#7c7c7c" stroke-width="0.6"/>
<text x="200.9" y="614.54" font-size="3.9" text-anchor="end" fill="#7c7c7c" stroke="#7c7c7c" stroke-width="0.1">60</text>
<line x1="201.6" y1="624.56" x2="203.4" y2="624.56" stroke="#7c7c7c" stroke-width="0.6"/>
<text x="200.9" y="625.96" font-size="3.9" text-anchor="end" fill="#7c7c7c" stroke="#7c7c7c" stroke-width="0.1">40</text>
<line x1="201.6" y1="635.98" x2="203.4" y2="635.98" stroke="#7c7c7c" stroke-width="0.6"/>
<text x="200.9" y="637.38" font-size="3.9" text-anchor="end" fill="#7c7c7c" stroke="#7c7c7c" stroke-width="0.1">20</text>
<line x1="201.6" y1="647.4" x2="203.4" y2="647.4" stroke="#7c7c7c" stroke-width="0.6"/>
<text x="200.9" y="648.8" font-size="3.9" text-anchor="end" fill="#7c7c7c" stroke="#7c7c7c" stroke-width="0.1">0</text>
<line x1="210" y1="647.4" x2="210" y2="648.9" stroke="#7c7c7c" stroke-width="0.6"/>
<text x="210" y="653.1" font-size="3.9" text-anchor="middle" fill="#7c7c7c" stroke="#7c7c7c" stroke-width="0.1">0</text>
<line x1="216" y1="647.4" x2="216" y2="648.9" stroke="#7c7c7c" stroke-width="0.6"/>
<text x="216" y="653.1" font-size="3.9" text-anchor="middle" fill="#7c7c7c" stroke="#7c7c7c" stroke-width="0.1">10<tspan font-size="2.4" dy="-1.2">2</tspan></text>
<line x1="230.2" y1="647.4" x2="230.2" y2="648.9" stroke="#7c7c7c" stroke-width="0.6"/>
<text x="230.2" y="653.1" font-size="3.9" text-anchor="middle" fill="#7c7c7c" stroke="#7c7c7c" stroke-width="0.1">10<tspan font-size="2.4" dy="-1.2">3</tspan></text>
<line x1="244.8" y1="647.4" x2="244.8" y2="648.9" stroke="#7c7c7c" stroke-width="0.6"/>
<text x="244.8" y="653.1" font-size="3.9" text-anchor="middle" fill="#7c7c7c" stroke="#7c7c7c" stroke-width="0.1">10<tspan font-size="2.4" dy="-1.2">4</tspan></text>
<line x1="258.4" y1="647.4" x2="258.4" y2="648.9" stroke="#7c7c7c" stroke-width="0.6"/>
<text x="258.4" y="653.1" font-size="3.9" text-anchor="middle" fill="#7c7c7c" stroke="#7c7c7c" stroke-width="0.1">10<tspan font-size="2.4" dy="-1.2">5</tspan></text>
<text x="233.4" y="662" font-size="8.2" font-weight="bold" text-anchor="middle" fill="#000">pSTAT5</text>
<text x="193.1" y="617.1" font-size="8" font-weight="bold" text-anchor="middle" fill="#000" transform="rotate(-90 193.1 617.1)">% of Max</text>
<text x="290.3" y="18.6" font-size="18.2" font-weight="bold" fill="#000">D</text>
<line x1="419.5" y1="164.6" x2="457.2" y2="126.6" stroke="#d4d4d4" stroke-width="0.7"/>
<path d="M355.2,121.1 L366,121.6 L372,118 L376,105 L378,92 L378.5,77.7 L378.6,58.5 L379.4,46 L380.4,41.4 L381.3,43.5 L382.3,39.6 L383.2,42 L383.8,46.9 L385.2,68.1 L386.5,83.5 L388,96.9 L389.5,100 L392,106 L396,114 L400,120 L405.6,123.7 L457.2,126.9 L457.2,126.76 L355.2,121.36 Z" fill="#f8aab2" stroke="none" stroke-width="1"/>
<line x1="355.2" y1="121.06" x2="457.2" y2="126.46" stroke="#c8c8c8" stroke-width="0.6"/>
<path d="M355.2,121.1 L366,121.6 L372,118 L376,105 L378,92 L378.5,77.7 L378.6,58.5 L379.4,46 L380.4,41.4 L381.3,43.5 L382.3,39.6 L383.2,42 L383.8,46.9 L385.2,68.1 L386.5,83.5 L388,96.9 L389.5,100 L392,106 L396,114 L400,120 L405.6,123.7 L457.2,126.9" fill="none" stroke="#d83c4c" stroke-width="0.9" stroke-linejoin="round"/>
<path d="M345.6,130.75 L355,131.25 L360,125 L364,110 L367.9,96.9 L369.2,87.3 L370.8,79.6 L371.7,64.2 L373.7,52.7 L374.9,48.3 L376.2,54.6 L376.9,70 L378.5,83.5 L380.4,91.2 L382.3,98.8 L384.2,101.7 L386,100.5 L388,99.8 L390,100.6 L391.9,98.8 L394,99.5 L396.7,96.9 L397.7,100.8 L398.8,101.5 L399.6,104.6 L400.8,109.2 L402.7,116.9 L404.6,124.6 L406.5,129.4 L410.4,132.7 L418.1,134.2 L427.7,135.2 L447.6,136.3 L447.6,136.45 L345.6,131.05 Z" fill="#fff" stroke="none" stroke-width="1"/>
<line x1="345.6" y1="130.75" x2="447.6" y2="136.15" stroke="#c8c8c8" stroke-width="0.6"/>
<path d="M345.6,130.75 L355,131.25 L360,125 L364,110 L367.9,96.9 L369.2,87.3 L370.8,79.6 L371.7,64.2 L373.7,52.7 L374.9,48.3 L376.2,54.6 L376.9,70 L378.5,83.5 L380.4,91.2 L382.3,98.8 L384.2,101.7 L386,100.5 L388,99.8 L390,100.6 L391.9,98.8 L394,99.5 L396.7,96.9 L397.7,100.8 L398.8,101.5 L399.6,104.6 L400.8,109.2 L402.7,116.9 L404.6,124.6 L406.5,129.4 L410.4,132.7 L418.1,134.2 L427.7,135.2 L447.6,136.3" fill="none" stroke="#5050c4" stroke-width="0.9" stroke-linejoin="round"/>
<path d="M336.7,140 L345,140.4 L349,135 L352,120 L355,100 L357,90 L358.3,84 L359.2,75 L360.2,64.2 L362.1,57.3 L364,66.2 L366,75.8 L366.9,87.3 L368.8,100.8 L370.8,106.5 L373.8,109.2 L376,113 L378.5,116.9 L381.9,125 L384.2,131.9 L386,136.5 L388.8,140 L393.5,142.3 L405,142.9 L420,144 L438.7,145.4 L438.7,145.68 L336.7,140.28 Z" fill="#fff" stroke="none" stroke-width="1"/>
<line x1="336.7" y1="139.98" x2="438.7" y2="145.38" stroke="#c8c8c8" stroke-width="0.6"/>
<path d="M336.7,140 L345,140.4 L349,135 L352,120 L355,100 L357,90 L358.3,84 L359.2,75 L360.2,64.2 L362.1,57.3 L364,66.2 L366,75.8 L366.9,87.3 L368.8,100.8 L370.8,106.5 L373.8,109.2 L376,113 L378.5,116.9 L381.9,125 L384.2,131.9 L386,136.5 L388.8,140 L393.5,142.3 L405,142.9 L420,144 L438.7,145.4" fill="none" stroke="#4ccc4c" stroke-width="0.9" stroke-linejoin="round"/>
<path d="M327.6,148.8 L333,149.1 L336,149.2 L339,145 L342,135 L344.5,122 L347.2,111.9 L348.5,100 L349.8,86 L351.5,73.8 L353.3,66.9 L354.7,72.1 L355.9,82.5 L357.6,98.1 L359,109 L360.2,117.1 L361.9,124.9 L363.5,127 L365.4,128.4 L366.5,126.5 L367.5,127.5 L368.8,126.6 L370,127.5 L371.4,128.4 L372.7,131.9 L376.2,137.7 L379.6,144.6 L383.1,149.8 L386.5,152.1 L393.5,152.7 L405,153.3 L429.6,155 L429.6,154.5 L327.6,149.09 Z" fill="#fff" stroke="none" stroke-width="1"/>
<line x1="327.6" y1="148.79" x2="429.6" y2="154.2" stroke="#c8c8c8" stroke-width="0.6"/>
<path d="M327.6,148.8 L333,149.1 L336,149.2 L339,145 L342,135 L344.5,122 L347.2,111.9 L348.5,100 L349.8,86 L351.5,73.8 L353.3,66.9 L354.7,72.1 L355.9,82.5 L357.6,98.1 L359,109 L360.2,117.1 L361.9,124.9 L363.5,127 L365.4,128.4 L366.5,126.5 L367.5,127.5 L368.8,126.6 L370,127.5 L371.4,128.4 L372.7,131.9 L376.2,137.7 L379.6,144.6 L383.1,149.8 L386.5,152.1 L393.5,152.7 L405,153.3 L429.6,155" fill="none" stroke="#dfaa72" stroke-width="0.9" stroke-linejoin="round"/>
<path d="M316.9,160.2 L318,158.8 L319,160.4 L320,158.9 L321.2,160.6 L322.3,159 L323.5,160.5 L324.6,158.7 L326,160.2 L327.2,158.6 L328.4,159.6 L329.5,158.2 L331,156.8 L332.5,153.5 L334.5,146 L336,137.9 L337.5,128 L338.6,120.6 L339.8,110 L340.8,101.5 L342,88.5 L343.2,76.6 L344,79 L344.6,82.5 L345.5,89 L346.3,96.3 L347,105 L347.7,115.4 L348.9,132.7 L350,143 L350.7,148.3 L352,152.5 L353.3,155.2 L358.5,157.8 L367.1,160.4 L375.8,162.1 L387.9,163.5 L400,164 L419,164.7 L419.5,164.96 L317.5,159.56 Z" fill="#fff" stroke="none" stroke-width="1"/>
<path d="M316.9,160.2 L318,158.8 L319,160.4 L320,158.9 L321.2,160.6 L322.3,159 L323.5,160.5 L324.6,158.7 L326,160.2 L327.2,158.6 L328.4,159.6 L329.5,158.2 L331,156.8 L332.5,153.5 L334.5,146 L336,137.9 L337.5,128 L338.6,120.6 L339.8,110 L340.8,101.5 L342,88.5 L343.2,76.6 L344,79 L344.6,82.5 L345.5,89 L346.3,96.3 L347,105 L347.7,115.4 L348.9,132.7 L350,143 L350.7,148.3 L352,152.5 L353.3,155.2 L358.5,157.8 L367.1,160.4 L375.8,162.1 L387.9,163.5 L400,164 L419,164.7" fill="none" stroke="#444444" stroke-width="1" stroke-linejoin="round"/>
<line x1="317.2" y1="159.2" x2="419" y2="164.8" stroke="#555" stroke-width="0.8"/>
<line x1="320.72" y1="159.09" x2="320.72" y2="160.59" stroke="#222" stroke-width="0.7"/>
<line x1="324.95" y1="159.33" x2="324.95" y2="160.83" stroke="#222" stroke-width="0.7"/>
<line x1="327.95" y1="159.49" x2="327.95" y2="160.99" stroke="#222" stroke-width="0.7"/>
<line x1="330.28" y1="159.62" x2="330.28" y2="161.12" stroke="#222" stroke-width="0.7"/>
<line x1="332.18" y1="159.72" x2="332.18" y2="161.22" stroke="#222" stroke-width="0.7"/>
<line x1="333.78" y1="159.81" x2="333.78" y2="161.31" stroke="#222" stroke-width="0.7"/>
<line x1="335.17" y1="159.89" x2="335.17" y2="161.39" stroke="#222" stroke-width="0.7"/>
<line x1="336.4" y1="159.96" x2="336.4" y2="161.46" stroke="#222" stroke-width="0.7"/>
<line x1="337.5" y1="160.02" x2="337.5" y2="162.32" stroke="#222" stroke-width="0.7"/>
<line x1="344.72" y1="160.41" x2="344.72" y2="161.91" stroke="#222" stroke-width="0.7"/>
<line x1="348.95" y1="160.65" x2="348.95" y2="162.15" stroke="#222" stroke-width="0.7"/>
<line x1="351.95" y1="160.81" x2="351.95" y2="162.31" stroke="#222" stroke-width="0.7"/>
<line x1="354.28" y1="160.94" x2="354.28" y2="162.44" stroke="#222" stroke-width="0.7"/>
<line x1="356.18" y1="161.04" x2="356.18" y2="162.54" stroke="#222" stroke-width="0.7"/>
<line x1="357.78" y1="161.13" x2="357.78" y2="162.63" stroke="#222" stroke-width="0.7"/>
<line x1="359.17" y1="161.21" x2="359.17" y2="162.71" stroke="#222" stroke-width="0.7"/>
<line x1="360.4" y1="161.28" x2="360.4" y2="162.78" stroke="#222" stroke-width="0.7"/>
<line x1="361.5" y1="161.34" x2="361.5" y2="163.64" stroke="#222" stroke-width="0.7"/>
<line x1="368.72" y1="161.73" x2="368.72" y2="163.23" stroke="#222" stroke-width="0.7"/>
<line x1="372.95" y1="161.97" x2="372.95" y2="163.47" stroke="#222" stroke-width="0.7"/>
<line x1="375.95" y1="162.13" x2="375.95" y2="163.63" stroke="#222" stroke-width="0.7"/>
<line x1="378.28" y1="162.26" x2="378.28" y2="163.76" stroke="#222" stroke-width="0.7"/>
<line x1="380.18" y1="162.36" x2="380.18" y2="163.86" stroke="#222" stroke-width="0.7"/>
<line x1="381.78" y1="162.45" x2="381.78" y2="163.95" stroke="#222" stroke-width="0.7"/>
<line x1="383.17" y1="162.53" x2="383.17" y2="164.03" stroke="#222" stroke-width="0.7"/>
<line x1="384.4" y1="162.6" x2="384.4" y2="164.1" stroke="#222" stroke-width="0.7"/>
<line x1="385.5" y1="162.66" x2="385.5" y2="164.96" stroke="#222" stroke-width="0.7"/>
<line x1="392.72" y1="163.05" x2="392.72" y2="164.55" stroke="#222" stroke-width="0.7"/>
<line x1="396.95" y1="163.29" x2="396.95" y2="164.79" stroke="#222" stroke-width="0.7"/>
<line x1="399.95" y1="163.45" x2="399.95" y2="164.95" stroke="#222" stroke-width="0.7"/>
<line x1="402.28" y1="163.58" x2="402.28" y2="165.08" stroke="#222" stroke-width="0.7"/>
<line x1="404.18" y1="163.68" x2="404.18" y2="165.18" stroke="#222" stroke-width="0.7"/>
<line x1="405.78" y1="163.77" x2="405.78" y2="165.27" stroke="#222" stroke-width="0.7"/>
<line x1="407.17" y1="163.85" x2="407.17" y2="165.35" stroke="#222" stroke-width="0.7"/>
<line x1="408.4" y1="163.92" x2="408.4" y2="165.42" stroke="#222" stroke-width="0.7"/>
<line x1="320.5" y1="159.08" x2="320.5" y2="160.58" stroke="#222" stroke-width="0.7"/>
<line x1="323.5" y1="159.25" x2="323.5" y2="160.75" stroke="#222" stroke-width="0.7"/>
<line x1="326.5" y1="159.41" x2="326.5" y2="160.91" stroke="#222" stroke-width="0.7"/>
<line x1="328.6" y1="159.53" x2="328.6" y2="161.03" stroke="#222" stroke-width="0.7"/>
<line x1="330.7" y1="159.64" x2="330.7" y2="161.14" stroke="#222" stroke-width="0.7"/>
<line x1="333" y1="159.77" x2="333" y2="161.27" stroke="#222" stroke-width="0.7"/>
<line x1="409.5" y1="163.98" x2="409.5" y2="166.28" stroke="#222" stroke-width="0.7"/>
<text x="334.7" y="81.8" font-size="9.4" text-anchor="middle" fill="#111" stroke="#111" stroke-width="0.22">1</text>
<text x="346.7" y="70" font-size="9.4" text-anchor="middle" fill="#111" stroke="#111" stroke-width="0.22">2</text>
<text x="359.5" y="56.5" font-size="9.4" text-anchor="middle" fill="#111" stroke="#111" stroke-width="0.22">3</text>
<text x="372.2" y="43.9" font-size="9.4" text-anchor="middle" fill="#111" stroke="#111" stroke-width="0.22">4</text>
<text x="385" y="37.8" font-size="9.4" text-anchor="middle" fill="#111" stroke="#111" stroke-width="0.22">5</text>
<text x="328.6" y="172.3" font-size="6.4" text-anchor="middle" fill="#333" stroke="#333" stroke-width="0.22">0</text>
<text x="333.4" y="172.3" font-size="6.4" fill="#333" stroke="#333" stroke-width="0.22">10<tspan font-size="4.4" dy="-2.8">2</tspan></text>
<text x="358" y="174" font-size="6.4" fill="#333" stroke="#333" stroke-width="0.22">10<tspan font-size="4.4" dy="-2.8">3</tspan></text>
<text x="382.4" y="175.1" font-size="6.4" fill="#333" stroke="#333" stroke-width="0.22">10<tspan font-size="4.4" dy="-2.8">4</tspan></text>
<text x="404.6" y="176.4" font-size="6.4" fill="#333" stroke="#333" stroke-width="0.22">10<tspan font-size="4.4" dy="-2.8">5</tspan></text>
<text x="379.2" y="206.7" font-size="11.6" text-anchor="middle" fill="#111" letter-spacing="0.7" stroke="#111" stroke-width="0.22">pSTAT5</text>
<text x="289.7" y="253.9" font-size="18.2" font-weight="bold" fill="#000">E</text>
<line x1="361.5" y1="348.1" x2="361.5" y2="332.1" stroke="#111" stroke-width="0.9"/>
<line x1="358.1" y1="332.1" x2="364.9" y2="332.1" stroke="#111" stroke-width="1"/>
<rect x="355.05" y="348.75" width="12.9" height="48.55" fill="url(#hatch)" stroke="#000" stroke-width="1.3"/>
<line x1="387.45" y1="345.1" x2="387.45" y2="326.4" stroke="#111" stroke-width="0.9"/>
<line x1="384.05" y1="326.4" x2="390.85" y2="326.4" stroke="#111" stroke-width="1"/>
<rect x="381" y="345.75" width="12.9" height="51.55" fill="url(#hatch)" stroke="#000" stroke-width="1.3"/>
<line x1="413.4" y1="356.6" x2="413.4" y2="339.3" stroke="#111" stroke-width="0.9"/>
<line x1="410" y1="339.3" x2="416.8" y2="339.3" stroke="#111" stroke-width="1"/>
<rect x="406.95" y="357.25" width="12.9" height="40.05" fill="url(#hatch)" stroke="#000" stroke-width="1.3"/>
<line x1="439.35" y1="370.1" x2="439.35" y2="355" stroke="#111" stroke-width="0.9"/>
<line x1="435.95" y1="355" x2="442.75" y2="355" stroke="#111" stroke-width="1"/>
<rect x="432.9" y="370.75" width="12.9" height="26.55" fill="url(#hatch)" stroke="#000" stroke-width="1.3"/>
<line x1="465.3" y1="394.9" x2="465.3" y2="392.5" stroke="#111" stroke-width="0.9"/>
<line x1="461.9" y1="392.5" x2="468.7" y2="392.5" stroke="#111" stroke-width="1"/>
<rect x="458.85" y="395.55" width="12.9" height="1.75" fill="url(#hatch)" stroke="#000" stroke-width="1.3"/>
<line x1="348.6" y1="310.85" x2="348.6" y2="397.8" stroke="#111" stroke-width="1.2"/>
<line x1="348.1" y1="397.3" x2="478" y2="397.3" stroke="#222" stroke-width="1.1"/>
<line x1="346.8" y1="397.3" x2="348.6" y2="397.3" stroke="#222" stroke-width="0.9"/>
<text x="344.7" y="399.78" font-size="8" text-anchor="end" fill="#222" stroke="#222" stroke-width="0.22">0</text>
<line x1="346.8" y1="380.07" x2="348.6" y2="380.07" stroke="#222" stroke-width="0.9"/>
<text x="344.7" y="382.55" font-size="8" text-anchor="end" fill="#222" stroke="#222" stroke-width="0.22">10</text>
<line x1="346.8" y1="362.84" x2="348.6" y2="362.84" stroke="#222" stroke-width="0.9"/>
<text x="344.7" y="365.32" font-size="8" text-anchor="end" fill="#222" stroke="#222" stroke-width="0.22">20</text>
<line x1="346.8" y1="345.61" x2="348.6" y2="345.61" stroke="#222" stroke-width="0.9"/>
<text x="344.7" y="348.09" font-size="8" text-anchor="end" fill="#222" stroke="#222" stroke-width="0.22">30</text>
<line x1="346.8" y1="328.38" x2="348.6" y2="328.38" stroke="#222" stroke-width="0.9"/>
<text x="344.7" y="330.86" font-size="8" text-anchor="end" fill="#222" stroke="#222" stroke-width="0.22">40</text>
<line x1="346.8" y1="311.15" x2="348.6" y2="311.15" stroke="#222" stroke-width="0.9"/>
<text x="344.7" y="313.63" font-size="8" text-anchor="end" fill="#222" stroke="#222" stroke-width="0.22">50</text>
<line x1="361.5" y1="397.3" x2="361.5" y2="400.1" stroke="#222" stroke-width="1"/>
<line x1="387.45" y1="397.3" x2="387.45" y2="400.1" stroke="#222" stroke-width="1"/>
<line x1="413.4" y1="397.3" x2="413.4" y2="400.1" stroke="#222" stroke-width="1"/>
<line x1="439.35" y1="397.3" x2="439.35" y2="400.1" stroke="#222" stroke-width="1"/>
<line x1="465.3" y1="397.3" x2="465.3" y2="400.1" stroke="#222" stroke-width="1"/>
<text x="328.7" y="352.7" font-size="8.1" text-anchor="middle" fill="#111" transform="rotate(-90 328.7 352.7)" stroke="#111" stroke-width="0.22">pSTAT5+CD3+ (% PBMC)</text>
<text x="465.3" y="390" font-size="9" font-weight="bold" text-anchor="middle" fill="#000">*</text>
<text x="362.7" y="406.8" font-size="9.6" text-anchor="end" fill="#111" transform="rotate(-45 362.7 406.8)" stroke="#111" stroke-width="0.22">untreated</text>
<text x="388.65" y="406.8" font-size="9.6" text-anchor="end" fill="#111" transform="rotate(-45 388.65 406.8)" stroke="#111" stroke-width="0.22">msIgG2a</text>
<text x="414.6" y="406.8" font-size="9.6" text-anchor="end" fill="#111" transform="rotate(-45 414.6 406.8)" stroke="#111" stroke-width="0.22">anti-Tac</text>
<text x="440.55" y="406.8" font-size="9.6" text-anchor="end" fill="#111" transform="rotate(-45 440.55 406.8)" stroke="#111" stroke-width="0.22">MiK-beta1</text>
<text x="466.5" y="406.8" font-size="9.6" text-anchor="end" fill="#111" transform="rotate(-45 466.5 406.8)" stroke="#111" stroke-width="0.22">anti-Tac + MiK-beta1</text>
<text x="290.9" y="548.4" font-size="18.2" font-weight="bold" fill="#000">F</text>
<line x1="338.6" y1="634.6" x2="463.7" y2="634.6" stroke="#b0b0b0" stroke-width="0.8"/>
<line x1="338.6" y1="580.6" x2="338.6" y2="616.6" stroke="#8a8a8a" stroke-width="0.8"/>
<line x1="336.8" y1="580.6" x2="340.4" y2="580.6" stroke="#8a8a8a" stroke-width="0.8"/>
<line x1="336.8" y1="616.6" x2="340.4" y2="616.6" stroke="#8a8a8a" stroke-width="0.8"/>
<line x1="344.85" y1="583" x2="344.85" y2="628.6" stroke="#8a8a8a" stroke-width="0.8"/>
<line x1="343.05" y1="583" x2="346.65" y2="583" stroke="#8a8a8a" stroke-width="0.8"/>
<line x1="343.05" y1="628.6" x2="346.65" y2="628.6" stroke="#8a8a8a" stroke-width="0.8"/>
<line x1="344.85" y1="586" x2="344.85" y2="614.8" stroke="#8a8a8a" stroke-width="0.8"/>
<line x1="343.05" y1="586" x2="346.65" y2="586" stroke="#8a8a8a" stroke-width="0.8"/>
<line x1="343.05" y1="614.8" x2="346.65" y2="614.8" stroke="#8a8a8a" stroke-width="0.8"/>
<line x1="351.1" y1="580.6" x2="351.1" y2="637.6" stroke="#8a8a8a" stroke-width="0.8"/>
<line x1="349.3" y1="580.6" x2="352.9" y2="580.6" stroke="#8a8a8a" stroke-width="0.8"/>
<line x1="349.3" y1="637.6" x2="352.9" y2="637.6" stroke="#8a8a8a" stroke-width="0.8"/>
<line x1="351.1" y1="589.6" x2="351.1" y2="609.4" stroke="#8a8a8a" stroke-width="0.8"/>
<line x1="349.3" y1="589.6" x2="352.9" y2="589.6" stroke="#8a8a8a" stroke-width="0.8"/>
<line x1="349.3" y1="609.4" x2="352.9" y2="609.4" stroke="#8a8a8a" stroke-width="0.8"/>
<line x1="363.6" y1="582.4" x2="363.6" y2="640" stroke="#8a8a8a" stroke-width="0.8"/>
<line x1="361.8" y1="582.4" x2="365.4" y2="582.4" stroke="#8a8a8a" stroke-width="0.8"/>
<line x1="361.8" y1="640" x2="365.4" y2="640" stroke="#8a8a8a" stroke-width="0.8"/>
<line x1="363.6" y1="603.4" x2="363.6" y2="610.6" stroke="#8a8a8a" stroke-width="0.8"/>
<line x1="361.8" y1="603.4" x2="365.4" y2="603.4" stroke="#8a8a8a" stroke-width="0.8"/>
<line x1="361.8" y1="610.6" x2="365.4" y2="610.6" stroke="#8a8a8a" stroke-width="0.8"/>
<line x1="388.6" y1="575.2" x2="388.6" y2="604.6" stroke="#8a8a8a" stroke-width="0.8"/>
<line x1="386.8" y1="575.2" x2="390.4" y2="575.2" stroke="#8a8a8a" stroke-width="0.8"/>
<line x1="386.8" y1="604.6" x2="390.4" y2="604.6" stroke="#8a8a8a" stroke-width="0.8"/>
<line x1="388.6" y1="629.8" x2="388.6" y2="634" stroke="#8a8a8a" stroke-width="0.8"/>
<line x1="386.8" y1="629.8" x2="390.4" y2="629.8" stroke="#8a8a8a" stroke-width="0.8"/>
<line x1="386.8" y1="634" x2="390.4" y2="634" stroke="#8a8a8a" stroke-width="0.8"/>
<line x1="438.6" y1="576.4" x2="438.6" y2="601.24" stroke="#8a8a8a" stroke-width="0.8"/>
<line x1="436.8" y1="576.4" x2="440.4" y2="576.4" stroke="#8a8a8a" stroke-width="0.8"/>
<line x1="436.8" y1="601.24" x2="440.4" y2="601.24" stroke="#8a8a8a" stroke-width="0.8"/>
<path d="M338.6,598.6 C339.23,599.54 343.6,606.45 344.85,607.96 C346.1,609.47 349.23,612.3 351.1,613.72 C352.98,615.14 359.85,620.25 363.6,622.12 C367.35,623.99 381.1,631.41 388.6,632.44 C396.1,633.47 433.6,632.44 438.6,632.44" fill="none" stroke="#111" stroke-width="1.1"/>
<path d="M338.6,598.6 L344.85,600.4 L351.1,599.44 L363.6,596.44 L388.6,589.84 L438.6,588.76" fill="none" stroke="#111" stroke-width="1.1"/>
<circle cx="338.6" cy="598.6" r="2.2" fill="#111"/>
<circle cx="344.85" cy="600.4" r="2.2" fill="#111"/>
<circle cx="351.1" cy="599.44" r="2.2" fill="#111"/>
<circle cx="363.6" cy="596.44" r="2.2" fill="#111"/>
<circle cx="388.6" cy="589.84" r="2.2" fill="#111"/>
<circle cx="438.6" cy="588.76" r="2.2" fill="#111"/>
<path d="M338.6,595.45 L335.15,601.15 L342.05,601.15 Z" fill="#111" stroke="none" stroke-width="1"/>
<path d="M344.85,604.81 L341.4,610.51 L348.3,610.51 Z" fill="#111" stroke="none" stroke-width="1"/>
<path d="M351.1,610.57 L347.65,616.27 L354.55,616.27 Z" fill="#111" stroke="none" stroke-width="1"/>
<path d="M363.6,618.97 L360.15,624.67 L367.05,624.67 Z" fill="#111" stroke="none" stroke-width="1"/>
<path d="M388.6,629.29 L385.15,634.99 L392.05,634.99 Z" fill="#111" stroke="none" stroke-width="1"/>
<path d="M438.6,629.29 L435.15,634.99 L442.05,634.99 Z" fill="#111" stroke="none" stroke-width="1"/>
<line x1="338.6" y1="562.3" x2="338.6" y2="646.6" stroke="#222" stroke-width="1"/>
<line x1="338.1" y1="646.6" x2="463.6" y2="646.6" stroke="#222" stroke-width="1"/>
<line x1="336.6" y1="634.6" x2="338.6" y2="634.6" stroke="#222" stroke-width="0.9"/>
<text x="335" y="637.6" font-size="8.4" text-anchor="end" fill="#222" stroke="#222" stroke-width="0.22">0</text>
<line x1="336.6" y1="610.6" x2="338.6" y2="610.6" stroke="#222" stroke-width="0.9"/>
<text x="335" y="613.6" font-size="8.4" text-anchor="end" fill="#222" stroke="#222" stroke-width="0.22">20</text>
<line x1="336.6" y1="586.6" x2="338.6" y2="586.6" stroke="#222" stroke-width="0.9"/>
<text x="335" y="589.6" font-size="8.4" text-anchor="end" fill="#222" stroke="#222" stroke-width="0.22">40</text>
<line x1="336.6" y1="562.6" x2="338.6" y2="562.6" stroke="#222" stroke-width="0.9"/>
<text x="335" y="565.6" font-size="8.4" text-anchor="end" fill="#222" stroke="#222" stroke-width="0.22">60</text>
<line x1="338.6" y1="646.6" x2="338.6" y2="648.8" stroke="#222" stroke-width="0.9"/>
<text x="338.6" y="657.6" font-size="8.4" text-anchor="middle" fill="#222" stroke="#222" stroke-width="0.22">0</text>
<line x1="363.6" y1="646.6" x2="363.6" y2="648.8" stroke="#222" stroke-width="0.9"/>
<text x="363.6" y="657.6" font-size="8.4" text-anchor="middle" fill="#222" stroke="#222" stroke-width="0.22">5</text>
<line x1="388.6" y1="646.6" x2="388.6" y2="648.8" stroke="#222" stroke-width="0.9"/>
<text x="388.6" y="657.6" font-size="8.4" text-anchor="middle" fill="#222" stroke="#222" stroke-width="0.22">10</text>
<line x1="413.6" y1="646.6" x2="413.6" y2="648.8" stroke="#222" stroke-width="0.9"/>
<text x="413.6" y="657.6" font-size="8.4" text-anchor="middle" fill="#222" stroke="#222" stroke-width="0.22">15</text>
<line x1="438.6" y1="646.6" x2="438.6" y2="648.8" stroke="#222" stroke-width="0.9"/>
<text x="438.6" y="657.6" font-size="8.4" text-anchor="middle" fill="#222" stroke="#222" stroke-width="0.22">20</text>
<line x1="463.6" y1="646.6" x2="463.6" y2="648.8" stroke="#222" stroke-width="0.9"/>
<text x="463.6" y="657.6" font-size="8.4" text-anchor="middle" fill="#222" stroke="#222" stroke-width="0.22">25</text>
<text x="401.8" y="670.6" font-size="9" text-anchor="middle" fill="#111" stroke="#111" stroke-width="0.22">inhibitor concentration (μM)</text>
<text x="305.7" y="602.2" font-size="9.5" text-anchor="middle" fill="#111" transform="rotate(-90 305.7 602.2)" stroke="#111" stroke-width="0.22">pSTAT5+ (% PBMC)</text>
<line x1="472.4" y1="580.2" x2="482.5" y2="580.2" stroke="#111" stroke-width="1"/>
<path d="M477.4,576.96 L474.06,582.47 L480.73,582.47 Z" fill="#111" stroke="none" stroke-width="1"/>
<text x="487.2" y="582.8" font-size="6.9" fill="#111" stroke="#111" stroke-width="0.22">PBS-1086</text>
<line x1="472.4" y1="589.8" x2="482.5" y2="589.8" stroke="#111" stroke-width="1"/>
<circle cx="477.3" cy="589.8" r="1.9" fill="#111"/>
<text x="487.2" y="592.5" font-size="6.9" fill="#111" stroke="#111" stroke-width="0.22">PBS-1143</text>
</svg>
</body></html>
